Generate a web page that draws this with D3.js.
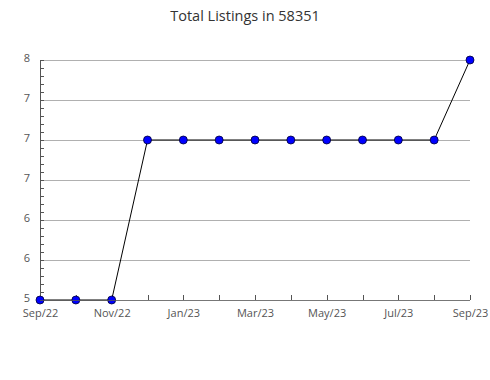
<!DOCTYPE html>
<html>
<head>
<meta charset="utf-8">
<script src="https://cdn.jsdelivr.net/npm/d3@7"></script>
<style>
  html, body { margin: 0; padding: 0; background: #fff; }
  svg { display: block; font-family: "Open Sans", "Noto Sans", sans-serif; }
</style>
</head>
<body>
<svg id="chart" width="490" height="380"></svg>
<script>
const title = "Total Listings in 58351";
const months = ["Sep/22","Oct/22","Nov/22","Dec/22","Jan/23","Feb/23","Mar/23","Apr/23","May/23","Jun/23","Jul/23","Aug/23","Sep/23"];
const values = [5,5,5,7,7,7,7,7,7,7,7,7,8];
const yTickValues = [5,5.5,6,6.5,7,7.5,8];
const yTickLabels = ["5","6","6","7","7","7","8"];
const xLabelEvery = 2;

const svg = d3.select("#chart");
const margin = {left: 40, right: 20, top: 60, bottom: 80};
const W = 490, H = 380;

const x = d3.scalePoint().domain(months).range([margin.left, W - margin.right]);
const y = d3.scaleLinear().domain([5, 8]).range([H - margin.bottom, margin.top]);

svg.append("text")
  .attr("x", 245).attr("y", 21)
  .attr("text-anchor", "middle")
  .attr("font-size", 14.5).attr("fill", "#333")
  .text(title);

// gridlines
svg.append("g").selectAll("line").data(yTickValues.slice(1)).join("line")
  .attr("x1", margin.left).attr("x2", W - margin.right)
  .attr("y1", d => y(d)).attr("y2", d => y(d))
  .attr("stroke", "#b0b0b0").attr("stroke-width", 1)
  .attr("shape-rendering", "crispEdges");

// y axis with labels
const yAxis = d3.axisLeft(y).tickValues(yTickValues)
  .tickFormat((d, i) => yTickLabels[i]).tickSize(0).tickPadding(10);
const gy = svg.append("g").attr("transform", `translate(${margin.left},0)`).call(yAxis);
gy.select(".domain").remove();
gy.selectAll("text").attr("font-size", 11).attr("fill", "#555")
  .attr("font-family", "'Open Sans', 'Noto Sans', sans-serif")
  .attr("dy", "0.15em");

// minor ticks on y
const minor = d3.range(5, 8.0001, 0.1).map(v => Math.round(v * 10) / 10);
svg.append("g").selectAll("line").data(minor).join("line")
  .attr("x1", margin.left).attr("x2", margin.left + 4)
  .attr("y1", d => Math.round(y(d)) + 0.5).attr("y2", d => Math.round(y(d)) + 0.5)
  .attr("stroke", "#555").attr("stroke-width", 1);

// y axis line
svg.append("line")
  .attr("x1", margin.left + 0.5).attr("x2", margin.left + 0.5)
  .attr("y1", margin.top).attr("y2", H - margin.bottom)
  .attr("stroke", "#555");

// x axis
const xAxis = d3.axisBottom(x).tickSize(0).tickPadding(9)
  .tickFormat((d, i) => i % xLabelEvery === 0 ? d : "");
const gx = svg.append("g").attr("transform", `translate(0,${H - margin.bottom})`).call(xAxis);
gx.select(".domain").remove();
gx.selectAll("text").attr("font-size", 11).attr("fill", "#555")
  .attr("font-family", "'Open Sans', 'Noto Sans', sans-serif")
  .attr("dy", "0.71em");

// x ticks pointing up
svg.append("g").selectAll("line").data(months).join("line")
  .attr("x1", d => Math.round(x(d)) + 0.5).attr("x2", d => Math.round(x(d)) + 0.5)
  .attr("y1", H - margin.bottom - 5).attr("y2", H - margin.bottom)
  .attr("stroke", "#555");

// line
const line = d3.line().x((d, i) => x(months[i])).y(d => y(d));
svg.append("path").datum(values)
  .attr("d", line).attr("fill", "none")
  .attr("stroke", "#000").attr("stroke-width", 1);

// markers
svg.append("g").selectAll("circle").data(values).join("circle")
  .attr("cx", (d, i) => x(months[i])).attr("cy", d => y(d))
  .attr("r", 4).attr("fill", "#0000ff")
  .attr("stroke", "#000033").attr("stroke-width", 0.8);

// x axis line
svg.append("line")
  .attr("x1", margin.left).attr("x2", W - margin.right)
  .attr("y1", H - margin.bottom + 0.5).attr("y2", H - margin.bottom + 0.5)
  .attr("stroke", "#555").attr("stroke-opacity", 0.8);
</script>
</body>
</html>
